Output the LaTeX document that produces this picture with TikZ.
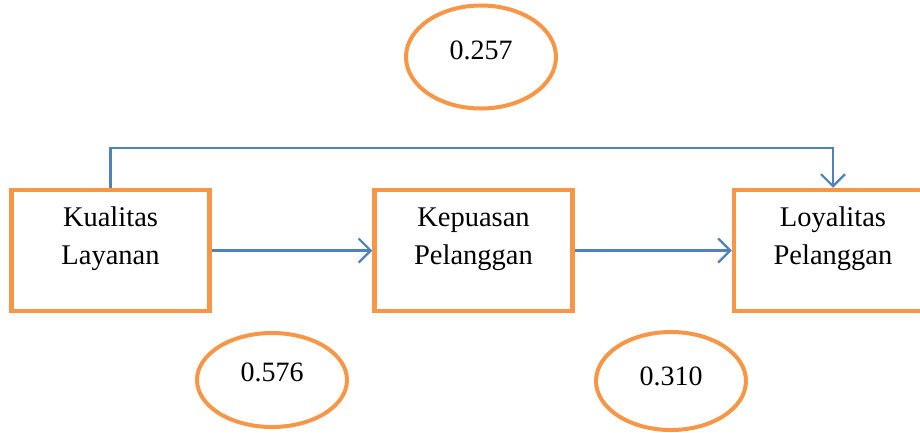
\documentclass[tikz,border=0pt]{standalone}
\usepackage{fontspec}
\setmainfont{Liberation Serif}
\usetikzlibrary{arrows.meta,positioning,shapes.geometric}
\definecolor{boxorange}{HTML}{F79646}
\definecolor{lineblue}{HTML}{4F81BD}
\tikzset{
  varbox/.style={draw=boxorange, line width=4.5pt, minimum width=198pt, minimum height=121pt, inner sep=0pt},
  vartext/.style={align=center, font=\fontsize{28.5}{38}\selectfont, inner sep=0pt},
  coef/.style={draw=boxorange, line width=4pt, ellipse, inner sep=0pt},
  coeftext/.style={font=\fontsize{28}{32}\selectfont, inner sep=0pt},
  link/.style={draw=lineblue, line width=2.2pt, -{Straight Barb[length=12pt,width=24pt,line width=2.2pt]}}
}
\begin{document}
\begin{tikzpicture}[x=1pt,y=-1pt]
\useasboundingbox (0,0) rectangle (920,432);
\clip (0,0) rectangle (920,432);
\fill[white] (0,0) rectangle (920,432);
\node[varbox] (kl) at (110.5,250.5) {};
\node[varbox] (kp) at (473.5,250.5) {};
\node[varbox] (lp) at (833,250.5) {};
\node[vartext] (klt) at (110.5,239) {Kualitas\\Layanan};
\node[vartext] (kpt) at (473.5,239) {Kepuasan\\Pelanggan};
\node[vartext] (lpt) at (833,239) {Loyalitas\\Pelanggan};
\node[coef, minimum width=150pt, minimum height=103pt] (c1) at (481,57) {};
\node[coeftext] (c1t) at (481,50) {0.257};
\node[coef, minimum width=150pt, minimum height=94pt] (c2) at (272,380) {};
\node[coeftext] (c2t) at (272,372) {0.576};
\node[coef, minimum width=150pt, minimum height=98pt] (c3) at (671,381) {};
\node[coeftext] (c3t) at (671,376) {0.310};
\coordinate (tl) at (110.5,148);
\coordinate (tr) at (833,148);
\draw[link] (kl.east) -- (kp.west);
\draw[link] (kp.east) -- (lp.west);
\draw[link] (kl.north) -- (tl) -- (tr) -- (lp.north);
\end{tikzpicture}
\end{document}
